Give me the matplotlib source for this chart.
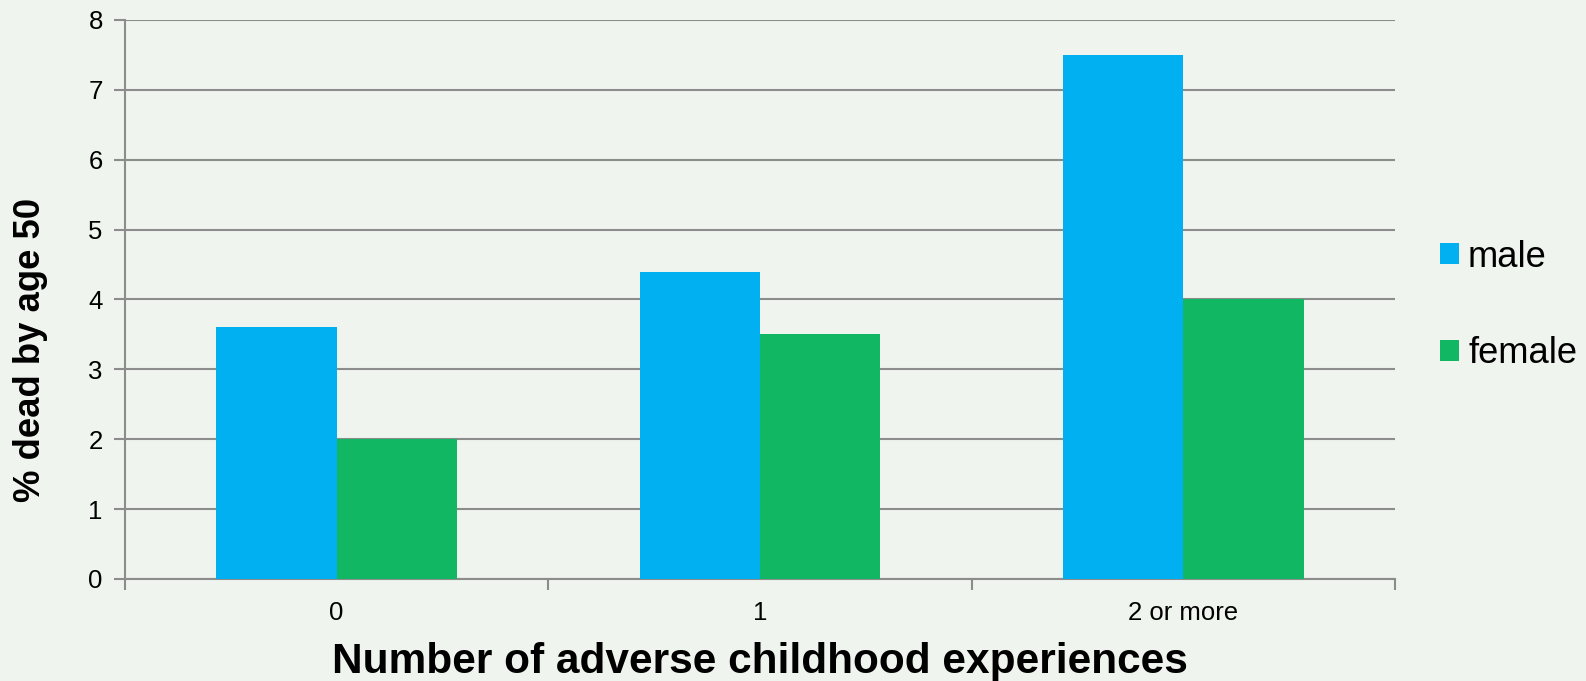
import numpy as np
import matplotlib
matplotlib.use('Agg')
import matplotlib.pyplot as plt

categories = ['0', '1', '2 or more']
male = [3.6, 4.4, 7.5]
female = [2.0, 3.5, 4.0]

bg = '#EFF5EE'
grid_col = '#8C8C8C'

plt.rcParams['font.family'] = ['Liberation Sans', 'DejaVu Sans']

fig = plt.figure(figsize=(15.86, 6.81), dpi=100, facecolor=bg)
ax = fig.add_axes([125/1586, 1-579/681, (1395-125)/1586, (579-20)/681])
ax.set_facecolor(bg)

x = np.arange(len(categories))
w = 0.284
ax.bar(x - w/2, male, w, color='#00B0F0', label='male', zorder=3)
ax.bar(x + w/2, female, w, color='#12B764', label='female', zorder=3)

ax.set_xlim(-0.5, len(categories) - 0.5)
ax.set_ylim(0, 8)
ax.set_yticks(range(0, 9))
ax.yaxis.grid(True, color=grid_col, linewidth=1.5, zorder=0)

# boundary ticks without labels, category labels at centres
ax.set_xticks(np.arange(-0.5, len(categories), 1.0))
ax.set_xticklabels([])
ax.set_xticks(x, minor=True)
ax.set_xticklabels(categories, minor=True)
ax.tick_params(axis='x', which='major', length=8, width=1.5, color=grid_col, direction='out')
ax.tick_params(axis='x', which='minor', length=0, pad=15.5, labelsize=18.5)
ax.tick_params(axis='y', length=8, width=1.5, color=grid_col, labelsize=18.5, pad=8)

for s in ['top', 'right']:
    ax.spines[s].set_visible(False)
for s in ['left', 'bottom']:
    ax.spines[s].set_color(grid_col)
    ax.spines[s].set_linewidth(1.5)

ax.set_xlabel('Number of adverse childhood experiences', fontsize=30.5, fontweight='bold')
ax.xaxis.label.set_va('baseline')
ax.xaxis.set_label_coords(0.5, -0.168)
ax.set_ylabel('% dead by age 50', fontsize=26.3, fontweight='bold')
ax.yaxis.set_label_coords(-0.0605, 0.409)

ax.legend(loc='center left', bbox_to_anchor=(1.024, 0.4895), frameon=False, fontsize=26.2,
          handlelength=0.52, handleheight=0.52, handletextpad=0.25, labelspacing=1.69,
          borderaxespad=0)

fig.savefig('out.png', dpi=100, facecolor=bg)
